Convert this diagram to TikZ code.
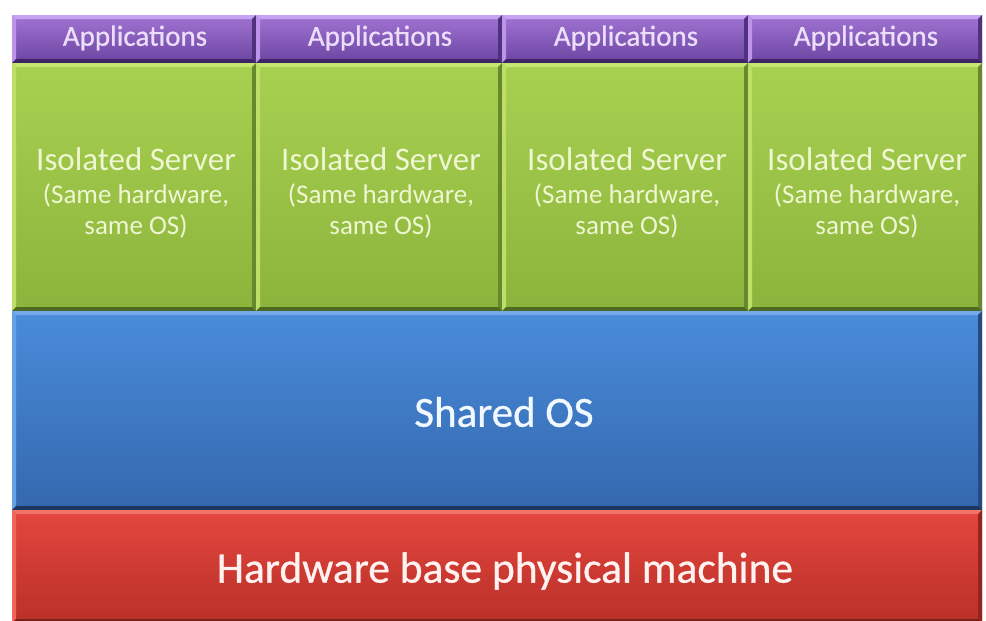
\documentclass[tikz,border=0pt]{standalone}
\usepackage{fontspec}
\setmainfont{Carlito}
\newfontfamily\thickfont[FakeBold=0.7]{Carlito}
\usetikzlibrary{shadings}
\definecolor{purT}{HTML}{A274D4}
\definecolor{purB}{HTML}{6A44A0}
\definecolor{purH}{HTML}{C8A2F2}
\definecolor{purS}{HTML}{3E2466}
\definecolor{purTx}{HTML}{ECDEFA}
\definecolor{grnT}{HTML}{A8D050}
\definecolor{grnB}{HTML}{8CB43C}
\definecolor{grnH}{HTML}{C6E672}
\definecolor{grnS}{HTML}{4E6A22}
\definecolor{grnTx}{HTML}{EEF6D2}
\definecolor{bluT}{HTML}{4A8CDA}
\definecolor{bluB}{HTML}{3468AE}
\definecolor{bluH}{HTML}{72AAEA}
\definecolor{bluS}{HTML}{1E3560}
\definecolor{bluTx}{HTML}{F2F8FF}
\definecolor{redT}{HTML}{E4463E}
\definecolor{redB}{HTML}{B83028}
\definecolor{redH}{HTML}{F27468}
\definecolor{redS}{HTML}{7A1E18}
\definecolor{redTx}{HTML}{FFF2F0}
\tikzset{
  layer/.style n args={4}{rectangle, inner sep=0pt, outer sep=0pt, anchor=north west,
    top color=#1, bottom color=#2,
    path picture={
      \fill[#3] (path picture bounding box.north west) -- (path picture bounding box.north east)
         -- ++(-4pt,-4pt) -- ([shift={(4pt,-4pt)}]path picture bounding box.north west) -- cycle;
      \fill[#3!70!#1] (path picture bounding box.north west) -- ([shift={(4pt,-4pt)}]path picture bounding box.north west)
         -- ([shift={(4pt,4pt)}]path picture bounding box.south west) -- (path picture bounding box.south west) -- cycle;
      \fill[#4!60!#2] (path picture bounding box.north east) -- ([shift={(-4pt,-4pt)}]path picture bounding box.north east)
         -- ([shift={(-4pt,4pt)}]path picture bounding box.south east) -- (path picture bounding box.south east) -- cycle;
      \fill[#4] (path picture bounding box.south west) -- (path picture bounding box.south east)
         -- ++(-4pt,4pt) -- ([shift={(4pt,4pt)}]path picture bounding box.south west) -- cycle;
    }},
  appbox/.style={layer={purT}{purB}{purH}{purS}, minimum height=48pt},
  srvbox/.style={layer={grnT}{grnB}{grnH}{grnS}, minimum height=248pt},
  apptext/.style={text=purTx, font=\thickfont\fontsize{29}{32}\selectfont},
  srvtext/.style={text=grnTx, align=center, font=\fontsize{27}{31}\selectfont},
}
\begin{document}
\begin{tikzpicture}[x=1pt, y=-1pt]
\useasboundingbox[fill=white] (0,0) rectangle (986,621);
% applications row
\node[appbox, minimum width=244pt] (a1) at (12,15) {};
\node[appbox, minimum width=246pt] (a2) at (256,15) {};
\node[appbox, minimum width=246pt] (a3) at (502,15) {};
\node[appbox, minimum width=234pt] (a4) at (748,15) {};
% servers row
\node[srvbox, minimum width=244pt] (s1) at (12,63) {};
\node[srvbox, minimum width=246pt] (s2) at (256,63) {};
\node[srvbox, minimum width=246pt] (s3) at (502,63) {};
\node[srvbox, minimum width=234pt] (s4) at (748,63) {};
% shared OS and hardware
\node[layer={bluT}{bluB}{bluH}{bluS}, minimum width=970pt, minimum height=199pt] (os) at (12,311) {};
\node[layer={redT}{redB}{redH}{redS}, minimum width=970pt, minimum height=113pt] (hw) at (12,510) {};
% texts
\foreach \c in {1,2,3,4}{
  \node[apptext] (at\c) at ([xshift=1pt,yshift=1pt]a\c.center) {Applications};
  \node[srvtext] (st\c) at ([xshift=2pt,yshift=-6pt]s\c.center) {{\fontsize{33}{36}\selectfont Isolated Server}\\[2pt](Same hardware,\\same OS)};
}
\node[text=bluTx, font=\thickfont\fontsize{43}{46}\selectfont] (ost) at (504,412) {Shared OS};
\node[text=redTx, font=\thickfont\fontsize{43.5}{48}\selectfont] (hwt) at (505,571) {Hardware base physical machine};
\end{tikzpicture}
\end{document}
